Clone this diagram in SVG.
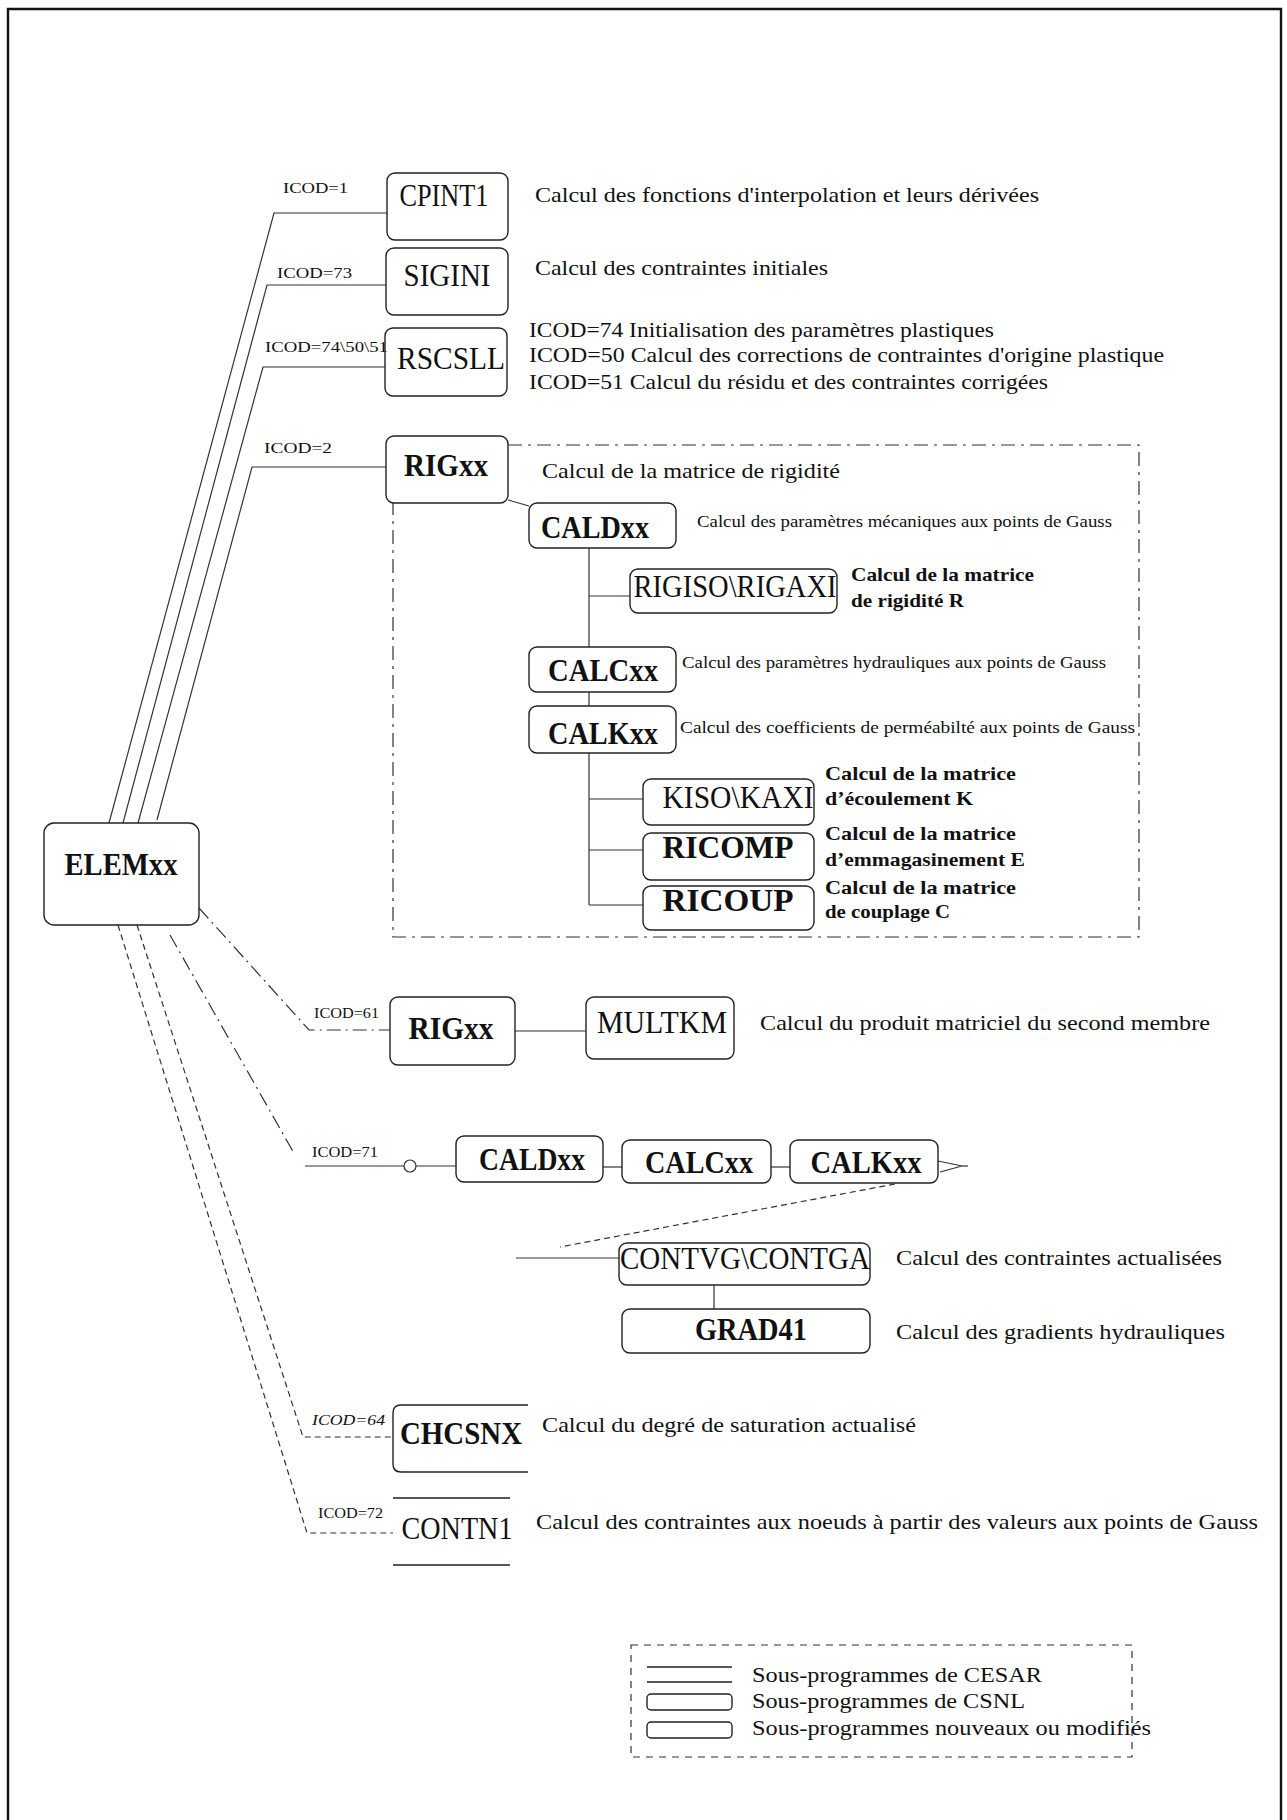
<svg xmlns="http://www.w3.org/2000/svg" width="1287" height="1820" viewBox="0 0 1287 1820">
<style>
.box{fill:none;stroke:#222;stroke-width:1.4}
.lbl{font-family:"Liberation Serif","Times New Roman",serif;font-size:31px;fill:#111;text-anchor:middle}
.b{font-weight:bold}
.d{font-family:"Liberation Serif","Times New Roman",serif;font-size:22px;fill:#111}
.s{font-size:16px}
.bl{font-size:19px;font-weight:bold}
.ic{font-family:"Liberation Serif","Times New Roman",serif;font-size:15px;fill:#111}
.c{fill:none;stroke:#333;stroke-width:1.2}
.dd{stroke-dasharray:14 5 2 5}
.ds{stroke-dasharray:6 4}
.fr{fill:none;stroke:#333;stroke-width:1.2;stroke-dasharray:14 6 3 6}
</style>
<rect x="0" y="0" width="1287" height="1820" fill="#fff"/>
<path d="M8 1822 V9 H1281 V1822" fill="none" stroke="#111" stroke-width="2.4"/>

<g id="connectors">
<polyline class="c" points="109,823 274,213 387,213"/>
<polyline class="c" points="123,823 267,285 386,285"/>
<polyline class="c" points="138,823 263,367 385,367"/>
<polyline class="c" points="157,820 252,467 386,467"/>
<line class="c" x1="508" y1="500" x2="529" y2="506"/>
<line class="c" x1="589" y1="548" x2="589" y2="647"/>
<line class="c" x1="589" y1="596" x2="630" y2="596"/>
<line class="c" x1="589" y1="692" x2="589" y2="706"/>
<line class="c" x1="589" y1="753" x2="589" y2="905"/>
<line class="c" x1="589" y1="799" x2="643" y2="799"/>
<line class="c" x1="589" y1="850" x2="643" y2="850"/>
<line class="c" x1="589" y1="905" x2="643" y2="905"/>
<polyline class="fr" points="508,445 1139,445 1139,937 393,937 393,503"/>
<polyline class="c dd" points="199,908 309,1030 390,1030"/>
<line class="c" x1="515" y1="1031" x2="586" y2="1031"/>
<polyline class="c dd" points="170,935 295,1155"/>
<line class="c" x1="305" y1="1166" x2="456" y2="1166"/>
<circle cx="410" cy="1166" r="6" fill="#fff" stroke="#333" stroke-width="1.2"/>
<line class="c" x1="603" y1="1167" x2="622" y2="1167"/>
<line class="c" x1="771" y1="1167" x2="790" y2="1167"/>
<polyline class="c" points="938,1161 962,1166 940,1172"/>
<line class="c" x1="962" y1="1166" x2="968" y2="1166"/>
<line class="c ds" x1="895" y1="1184" x2="560" y2="1247"/>
<line class="c" x1="516" y1="1258" x2="619" y2="1258"/>
<line class="c" x1="714" y1="1285" x2="714" y2="1309"/>
<polyline class="c ds" points="137,925 303,1437 393,1437"/>
<polyline class="c ds" points="118,925 307,1533 393,1533"/>
</g>

<g id="CPINT1"><rect class="box" x="387" y="173" width="121" height="67" rx="8"/><text class="lbl" x="444" y="206" textLength="89" lengthAdjust="spacingAndGlyphs">CPINT1</text><text class="ic" x="283" y="193" textLength="65" lengthAdjust="spacingAndGlyphs">ICOD=1</text><text class="d" x="535" y="202" textLength="504" lengthAdjust="spacingAndGlyphs">Calcul des fonctions d'interpolation et leurs dérivées</text></g>
<g id="SIGINI"><rect class="box" x="386" y="248" width="122" height="67" rx="8"/><text class="lbl" x="447" y="286" textLength="87" lengthAdjust="spacingAndGlyphs">SIGINI</text><text class="ic" x="277" y="278" textLength="75" lengthAdjust="spacingAndGlyphs">ICOD=73</text><text class="d" x="535" y="275" textLength="293" lengthAdjust="spacingAndGlyphs">Calcul des contraintes initiales</text></g>
<g id="RSCSLL"><rect class="box" x="385" y="328" width="122" height="68" rx="8"/><text class="lbl" x="451" y="369" textLength="108" lengthAdjust="spacingAndGlyphs">RSCSLL</text><text class="ic" x="265" y="352" textLength="123" lengthAdjust="spacingAndGlyphs">ICOD=74\50\51</text>
<text class="d" x="529" y="337" textLength="465" lengthAdjust="spacingAndGlyphs">ICOD=74 Initialisation des paramètres plastiques</text>
<text class="d" x="529" y="362" textLength="635" lengthAdjust="spacingAndGlyphs">ICOD=50 Calcul des corrections de contraintes d'origine plastique</text>
<text class="d" x="529" y="389" textLength="519" lengthAdjust="spacingAndGlyphs">ICOD=51 Calcul du résidu et des contraintes corrigées</text></g>
<g id="RIGxx"><rect class="box" x="386" y="436" width="122" height="67" rx="8"/><text class="lbl b" x="446" y="476" textLength="84" lengthAdjust="spacingAndGlyphs">RIGxx</text><text class="ic" x="264" y="453" textLength="68" lengthAdjust="spacingAndGlyphs">ICOD=2</text><text class="d" x="542" y="478" textLength="298" lengthAdjust="spacingAndGlyphs">Calcul de la matrice de rigidité</text></g>
<g id="CALDxx"><rect class="box" x="529" y="503" width="147" height="45" rx="8"/><text class="lbl b" x="595" y="538" textLength="108" lengthAdjust="spacingAndGlyphs">CALDxx</text><text class="d s" x="697" y="527" textLength="415" lengthAdjust="spacingAndGlyphs">Calcul des paramètres mécaniques aux points de Gauss</text></g>
<g id="RIGISO"><rect class="box" x="630" y="569" width="207" height="44" rx="8"/><text class="lbl" x="735" y="597" textLength="203" lengthAdjust="spacingAndGlyphs">RIGISO\RIGAXI</text><text class="d bl" x="851" y="581" textLength="183" lengthAdjust="spacingAndGlyphs">Calcul de la matrice</text><text class="d bl" x="851" y="607" textLength="113" lengthAdjust="spacingAndGlyphs">de rigidité R</text></g>
<g id="CALCxx"><rect class="box" x="529" y="647" width="147" height="45" rx="8"/><text class="lbl b" x="603" y="681" textLength="110" lengthAdjust="spacingAndGlyphs">CALCxx</text><text class="d s" x="682" y="668" textLength="424" lengthAdjust="spacingAndGlyphs">Calcul des paramètres hydrauliques aux points de Gauss</text></g>
<g id="CALKxx"><rect class="box" x="529" y="706" width="147" height="47" rx="8"/><text class="lbl b" x="603" y="744" textLength="110" lengthAdjust="spacingAndGlyphs">CALKxx</text><text class="d s" x="680" y="733" textLength="455" lengthAdjust="spacingAndGlyphs">Calcul des coefficients de perméabilté aux points de Gauss</text></g>
<g id="KISO"><rect class="box" x="643" y="779" width="171" height="46" rx="8"/><text class="lbl" x="738" y="808" textLength="151" lengthAdjust="spacingAndGlyphs">KISO\KAXI</text><text class="d bl" x="825" y="780" textLength="191" lengthAdjust="spacingAndGlyphs">Calcul de la matrice</text><text class="d bl" x="825" y="805" textLength="148" lengthAdjust="spacingAndGlyphs">d’écoulement K</text></g>
<g id="RICOMP"><rect class="box" x="643" y="833" width="171" height="47" rx="8"/><text class="lbl b" x="728" y="858" textLength="131" lengthAdjust="spacingAndGlyphs">RICOMP</text><text class="d bl" x="825" y="840" textLength="191" lengthAdjust="spacingAndGlyphs">Calcul de la matrice</text><text class="d bl" x="825" y="866" textLength="200" lengthAdjust="spacingAndGlyphs">d’emmagasinement E</text></g>
<g id="RICOUP"><rect class="box" x="643" y="886" width="171" height="44" rx="8"/><text class="lbl b" x="728" y="911" textLength="131" lengthAdjust="spacingAndGlyphs">RICOUP</text><text class="d bl" x="825" y="894" textLength="191" lengthAdjust="spacingAndGlyphs">Calcul de la matrice</text><text class="d bl" x="825" y="918" textLength="125" lengthAdjust="spacingAndGlyphs">de couplage C</text></g>
<g id="ELEMxx"><rect class="box" x="44" y="823" width="155" height="102" rx="10"/><text class="lbl b" x="121" y="875" textLength="113" lengthAdjust="spacingAndGlyphs">ELEMxx</text></g>
<g id="RIGxx61"><rect class="box" x="390" y="997" width="125" height="68" rx="8"/><text class="lbl b" x="451" y="1039" textLength="85" lengthAdjust="spacingAndGlyphs">RIGxx</text><text class="ic" x="314" y="1018" textLength="65" lengthAdjust="spacingAndGlyphs">ICOD=61</text></g>
<g id="MULTKM"><rect class="box" x="586" y="997" width="148" height="62" rx="8"/><text class="lbl" x="662" y="1033" textLength="130" lengthAdjust="spacingAndGlyphs">MULTKM</text><text class="d" x="760" y="1030" textLength="450" lengthAdjust="spacingAndGlyphs">Calcul du produit matriciel du second membre</text></g>
<g id="CALDxx71"><rect class="box" x="456" y="1136" width="147" height="46" rx="8"/><text class="lbl b" x="532" y="1170" textLength="106" lengthAdjust="spacingAndGlyphs">CALDxx</text><text class="ic" x="312" y="1157" textLength="66" lengthAdjust="spacingAndGlyphs">ICOD=71</text></g>
<g id="CALCxx71"><rect class="box" x="622" y="1140" width="149" height="43" rx="8"/><text class="lbl b" x="699" y="1173" textLength="108" lengthAdjust="spacingAndGlyphs">CALCxx</text></g>
<g id="CALKxx71"><rect class="box" x="790" y="1140" width="148" height="43" rx="8"/><text class="lbl b" x="866" y="1173" textLength="111" lengthAdjust="spacingAndGlyphs">CALKxx</text></g>
<g id="CONTVG"><rect class="box" x="619" y="1243" width="251" height="42" rx="8"/><text class="lbl" x="745" y="1269" textLength="250" lengthAdjust="spacingAndGlyphs">CONTVG\CONTGA</text><text class="d" x="896" y="1265" textLength="326" lengthAdjust="spacingAndGlyphs">Calcul des contraintes actualisées</text></g>
<g id="GRAD41"><rect class="box" x="622" y="1309" width="248" height="44" rx="8"/><text class="lbl b" x="751" y="1340" textLength="112" lengthAdjust="spacingAndGlyphs">GRAD41</text><text class="d" x="896" y="1339" textLength="329" lengthAdjust="spacingAndGlyphs">Calcul des gradients hydrauliques</text></g>
<g id="CHCSNX"><path class="box" d="M528 1405 H401 Q393 1405 393 1413 V1464 Q393 1472 401 1472 H528"/><text class="lbl b" x="461" y="1444" textLength="122" lengthAdjust="spacingAndGlyphs">CHCSNX</text><text class="ic" x="312" y="1425" textLength="73" lengthAdjust="spacingAndGlyphs" font-style="italic">ICOD=64</text><text class="d" x="542" y="1432" textLength="374" lengthAdjust="spacingAndGlyphs">Calcul du degré de saturation actualisé</text></g>
<g id="CONTN1"><path class="box" d="M393 1498 H510 M393 1565 H510"/><text class="lbl" x="457" y="1539" textLength="111" lengthAdjust="spacingAndGlyphs">CONTN1</text><text class="ic" x="318" y="1518" textLength="65" lengthAdjust="spacingAndGlyphs">ICOD=72</text><text class="d" x="536" y="1529" textLength="722" lengthAdjust="spacingAndGlyphs">Calcul des contraintes aux noeuds à partir des valeurs aux points de Gauss</text></g>

<g id="legend">
<rect x="631" y="1645" width="501" height="112" fill="none" stroke="#333" stroke-width="1.2" stroke-dasharray="7 6"/>
<path class="box" d="M647 1667 H732 M647 1682 H732"/>
<rect class="box" x="647" y="1694" width="85" height="16" rx="4"/>
<rect class="box" x="647" y="1722" width="85" height="16" rx="4"/>
<text class="d" x="752" y="1682" font-size="23" textLength="290" lengthAdjust="spacingAndGlyphs">Sous-programmes de CESAR</text>
<text class="d" x="752" y="1708" font-size="23" textLength="273" lengthAdjust="spacingAndGlyphs">Sous-programmes de CSNL</text>
<text class="d" x="752" y="1735" font-size="23" textLength="399" lengthAdjust="spacingAndGlyphs">Sous-programmes nouveaux ou modifiés</text>
</g>
</svg>
